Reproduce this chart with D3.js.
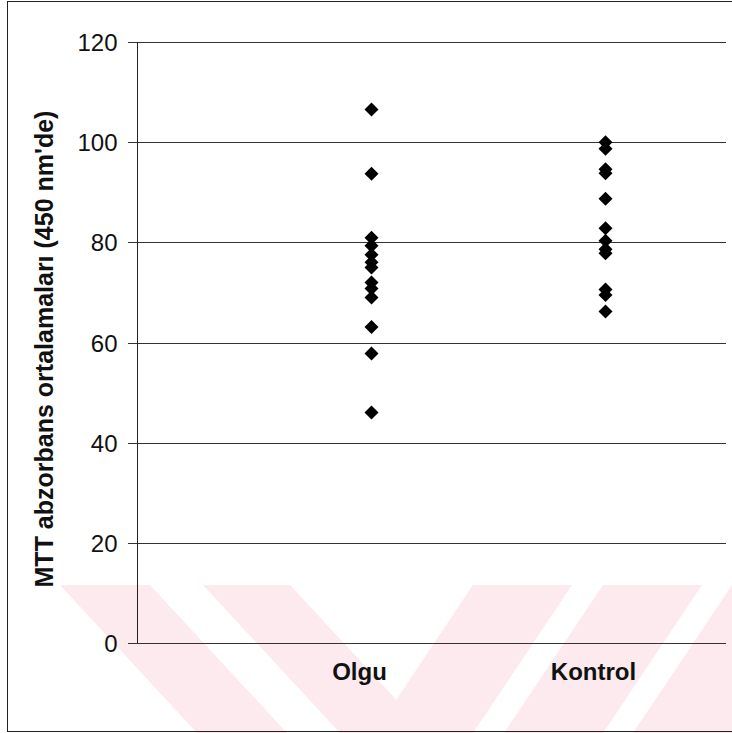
<!DOCTYPE html>
<html>
<head>
<meta charset="utf-8">
<script src="https://cdn.jsdelivr.net/npm/d3@7"></script>
<style>
  html, body { margin: 0; padding: 0; background: #fff; }
  svg { display: block; }
  text { font-family: "Liberation Sans", Arial, sans-serif; fill: #111; }
</style>
</head>
<body>
<svg id="chart" width="732" height="733"></svg>
<script>
// Group names and measured mean MTT absorbance values (450 nm)
const categories = ["Olgu", "Kontrol"];
const olguValues = [106.5, 93.7, 80.9, 79.3, 77.5, 76.0, 75.0, 72.0, 70.8, 69.0, 63.1, 57.8, 46.0];
const kontrolValues = [100.0, 98.7, 94.6, 93.8, 88.7, 82.8, 80.3, 78.6, 77.8, 70.6, 69.5, 66.2];
const yTicks = [0, 20, 40, 60, 80, 100, 120];
const yTitle = "MTT abzorbans ortalamaları (450 nm'de)";

const svg = d3.select("#chart");
const W = 732, H = 733;

// plot frame
const plotLeft = 137, plotRight = 726, plotTop = 42, plotBottom = 643;

const y = d3.scaleLinear().domain([0, 120]).range([plotBottom, plotTop]);
const x = d3.scaleLinear().domain([0, 2.5]).range([137.5, 722.5]);

// light chevron band background along the lower edge of the page
const band = svg.append("g").attr("fill", "#fdeaee");
const bTop = 585, bBot = 733;
const bands = [
  [[60, 150], [197, 287]],
  [[203, 290], [340, 427]],
  [[473, 572], [374, 473]],
  [[603, 702], [504, 603]],
  [[732, 832], [633, 733]]
];
bands.forEach(([t, b]) => {
  band.append("path")
    .attr("d", `M${t[0]},${bTop}L${t[1]},${bTop}L${b[1]},${bBot}L${b[0]},${bBot}Z`);
});

// outer border
svg.append("rect")
  .attr("x", 7.5).attr("y", 1.5)
  .attr("width", 730).attr("height", 730)
  .attr("fill", "none").attr("stroke", "#222").attr("stroke-width", 1);

// horizontal gridlines with short ticks left of the axis
svg.append("g").selectAll("line")
  .data(yTicks)
  .join("line")
  .attr("x1", plotLeft - 9)
  .attr("x2", plotRight)
  .attr("y1", d => Math.round(y(d)) + 0.5)
  .attr("y2", d => Math.round(y(d)) + 0.5)
  .attr("stroke", "#333")
  .attr("stroke-width", 1);

// y axis with labels
const yAxis = d3.axisLeft(y).tickValues(yTicks).tickSize(0).tickPadding(0).tickFormat(d3.format("d"));
const yAxisG = svg.append("g")
  .attr("transform", `translate(${plotLeft + 0.5},0)`)
  .call(yAxis);
yAxisG.select(".domain").attr("stroke", "#222").attr("d", `M0,${plotTop}V${plotBottom}`);
yAxisG.selectAll(".tick text")
  .attr("x", -20)
  .attr("dy", "0.36em")
  .style("font-family", "'Liberation Sans', Arial, sans-serif")
  .style("font-size", "24px")
  .attr("fill", "#111");

// y axis title
svg.append("text")
  .attr("transform", `translate(53,349) rotate(-90)`)
  .attr("text-anchor", "middle")
  .style("font-size", "25px")
  .style("font-weight", "bold")
  .text(yTitle);

// category labels
svg.append("g").selectAll("text")
  .data(categories)
  .join("text")
  .attr("x", (d, i) => x(i + 1) - 12)
  .attr("y", 680)
  .attr("text-anchor", "middle")
  .style("font-size", "24px")
  .style("font-weight", "bold")
  .text(d => d);

// diamond markers
const diamond = "M0,-7L7,0L0,7L-7,0Z";
const groups = [olguValues, kontrolValues];
groups.forEach((vals, i) => {
  svg.append("g").selectAll("path")
    .data(vals)
    .join("path")
    .attr("d", diamond)
    .attr("transform", d => `translate(${x(i + 1)},${y(d)})`)
    .attr("fill", "#000");
});
</script>
</body>
</html>
